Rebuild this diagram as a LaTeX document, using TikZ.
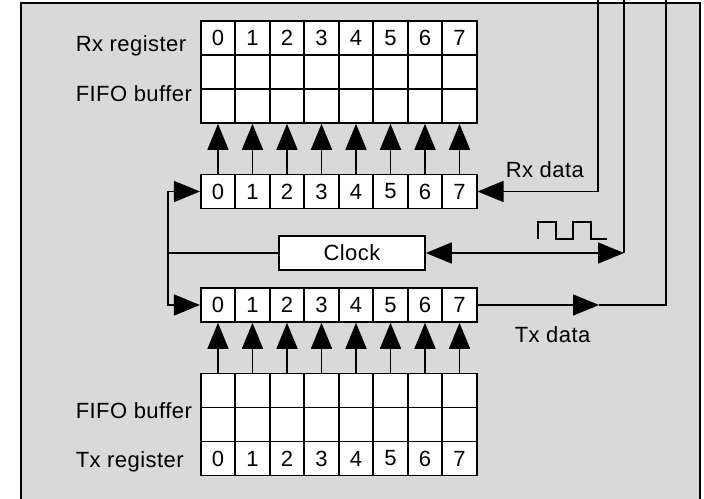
\documentclass[tikz,border=0pt]{standalone}
\usepackage{fontspec}
\setmainfont[LetterSpace=2]{Liberation Sans}
\usetikzlibrary{arrows.meta}

\begin{document}
\begin{tikzpicture}[x=1pt, y=-1pt, line width=1.6pt,
  cell/.style={draw, fill=white, minimum width=34.5pt, minimum height=34pt, inner sep=0pt, font=\fontsize{22}{26}\selectfont},
  lbl/.style={anchor=base west, inner sep=0pt, font=\fontsize{22}{26}\selectfont},
  tip/.style={-{Triangle[length=26pt,width=21pt]}}]
\useasboundingbox (0,0) rectangle (704,498);
\draw[fill=black!15] (21,3) rectangle (700,520);

% Rx register and FIFO
\foreach \i in {0,...,7} {
  \node[cell] (rr\i) at (218+34.5*\i,38) {\i};
  \node[cell] (rfa\i) at (218+34.5*\i,72) {};
  \node[cell] (rfb\i) at (218+34.5*\i,106) {};
}
\node[lbl] (rxreg) at (75,51) {Rx register};
\node[lbl] (rxfifo) at (75,101) {FIFO buffer};

% Rx shift register
\foreach \i in {0,...,7} {
  \node[cell] (rs\i) at (218+34.5*\i,191.5) {\i};
  \draw[tip] (rs\i.north) -- (rfb\i.south);
}

% Clock
\node[draw, fill=white, minimum width=146pt, minimum height=34pt, font=\fontsize{22}{26}\selectfont] (clk) at (352,253) {Clock};
\draw (538,239) -- (538,222) -- (556,222) -- (556,239) -- (573,239) -- (573,222) -- (591,222) -- (591,239) -- (607,239);

% Tx shift register
\foreach \i in {0,...,7} {
  \node[cell] (ts\i) at (218+34.5*\i,305) {\i};
}

% Tx FIFO and register
\foreach \i in {0,...,7} {
  \node[cell] (tfa\i) at (218+34.5*\i,390.5) {};
  \node[cell] (tfb\i) at (218+34.5*\i,424.5) {};
  \node[cell] (tr\i) at (218+34.5*\i,458.5) {\i};
  \draw[tip] (tfa\i.north) -- (ts\i.south);
}
\node[lbl] (txfifo) at (75,418) {FIFO buffer};
\node[lbl] (txreg) at (75,467) {Tx register};

% lines to the outside
\coordinate (rxtop) at (598,0);
\coordinate (clktop) at (624,0);
\coordinate (txtop) at (666,0);
\coordinate (split) at (168,253);
\coordinate (clkend) at (624,253);
\coordinate (txmid) at (599,305);

\draw[tip] (rxtop) |- (rs7.east);
\draw[{Triangle[length=26pt,width=21pt]}-{Triangle[length=26pt,width=21pt]}] (clk.east) -- (clkend);
\draw (clkend) -- (clktop);
\draw (clk.west) -- (split);
\draw[tip] (split) |- (rs0.west);
\draw[tip] (split) |- (ts0.west);
\draw[tip] (ts7.east) -- (txmid);
\draw (txmid) -| (txtop);

\node[lbl] (rxdata) at (505,177) {Rx data};
\node[lbl] (txdata) at (514,342) {Tx data};
\end{tikzpicture}
\end{document}
